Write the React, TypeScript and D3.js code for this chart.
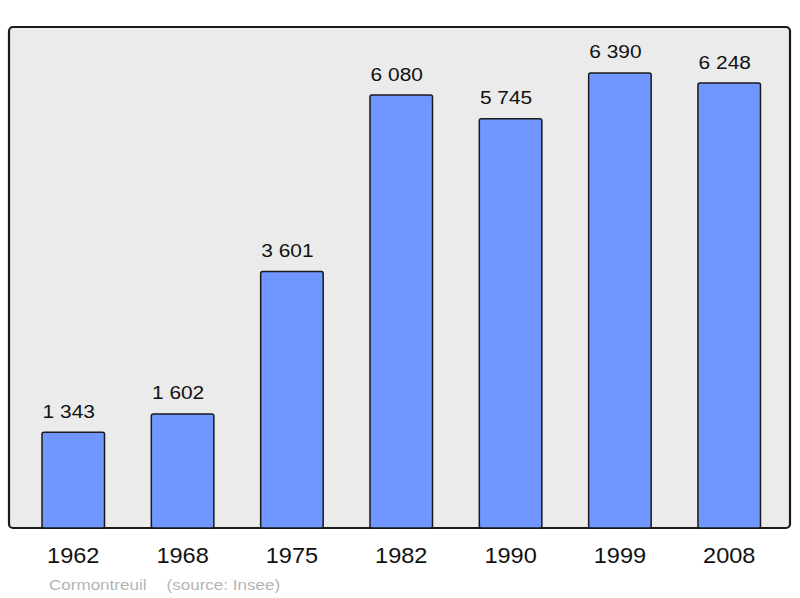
import * as d3 from 'd3'

const YEARS = ['1962', '1968', '1975', '1982', '1990', '1999', '2008']
const POPULATION = [1343, 1602, 3601, 6080, 5745, 6390, 6248]
const TOWN = 'Cormontreuil'
const SOURCE = '(source: Insee)'

const WIDTH = 800
const HEIGHT = 598
const FRAME = { left: 9, top: 27, right: 790, bottom: 528 }
// text in the original is stretched a little horizontally
const STRETCH = 1.1

const fmt = (v: number) => d3.format(',')(v).replace(/,/g, ' ')

export default function App() {
  const x = d3.scaleBand<string>()
    .domain(YEARS)
    .range([18.6, 783.9])
    .paddingInner(0.428)
    .paddingOuter(0.214)

  const y = d3.scaleLinear()
    .domain([0, 7035])
    .range([FRAME.bottom, FRAME.top])

  return (
    <svg
      width={WIDTH}
      height={HEIGHT}
      style={{ position: 'absolute', left: 0, top: 0, fontFamily: '"Liberation Sans", Arial, sans-serif' }}
    >
      <rect width={WIDTH} height={HEIGHT} fill="#ffffff" />

      {/* Frame */}
      <rect
        x={FRAME.left}
        y={FRAME.top}
        width={FRAME.right - FRAME.left}
        height={FRAME.bottom - FRAME.top}
        rx={4}
        fill="#ebebeb"
        stroke="#1a1a1a"
        strokeWidth={2.2}
      />

      {/* Bars */}
      {YEARS.map((year, i) => {
        const x0 = x(year)!
        const yTop = y(POPULATION[i])
        return (
          <rect
            key={year}
            x={x0}
            y={yTop}
            width={x.bandwidth()}
            height={FRAME.bottom - yTop}
            rx={2}
            fill="#7096ff"
            stroke="#1a1a1a"
            strokeWidth={1.5}
          />
        )
      })}

      {/* Value labels (sit slightly left of the bar centre in the original) */}
      {YEARS.map((year, i) => {
        const cx = x(year)! + x.bandwidth() / 2 - 4.5
        return (
          <text
            key={year}
            transform={`translate(${cx}, ${y(POPULATION[i]) - 14.5}) scale(${STRETCH}, 1)`}
            textAnchor="middle"
            fontSize={19}
            fill="#111"
          >
            {fmt(POPULATION[i])}
          </text>
        )
      })}

      {/* Year labels */}
      {YEARS.map(year => {
        const cx = x(year)! + x.bandwidth() / 2
        return (
          <text
            key={year}
            transform={`translate(${cx}, 563) scale(${STRETCH}, 1)`}
            textAnchor="middle"
            fontSize={21.4}
            fill="#111"
          >
            {year}
          </text>
        )
      })}

      {/* Source */}
      <text transform={`translate(49, 590) scale(${STRETCH}, 1)`} fontSize={15.5} fill="#b4b4b4">
        {TOWN}
      </text>
      <text transform={`translate(166.5, 590) scale(${STRETCH}, 1)`} fontSize={15.5} fill="#b4b4b4">
        {SOURCE}
      </text>
    </svg>
  )
}
